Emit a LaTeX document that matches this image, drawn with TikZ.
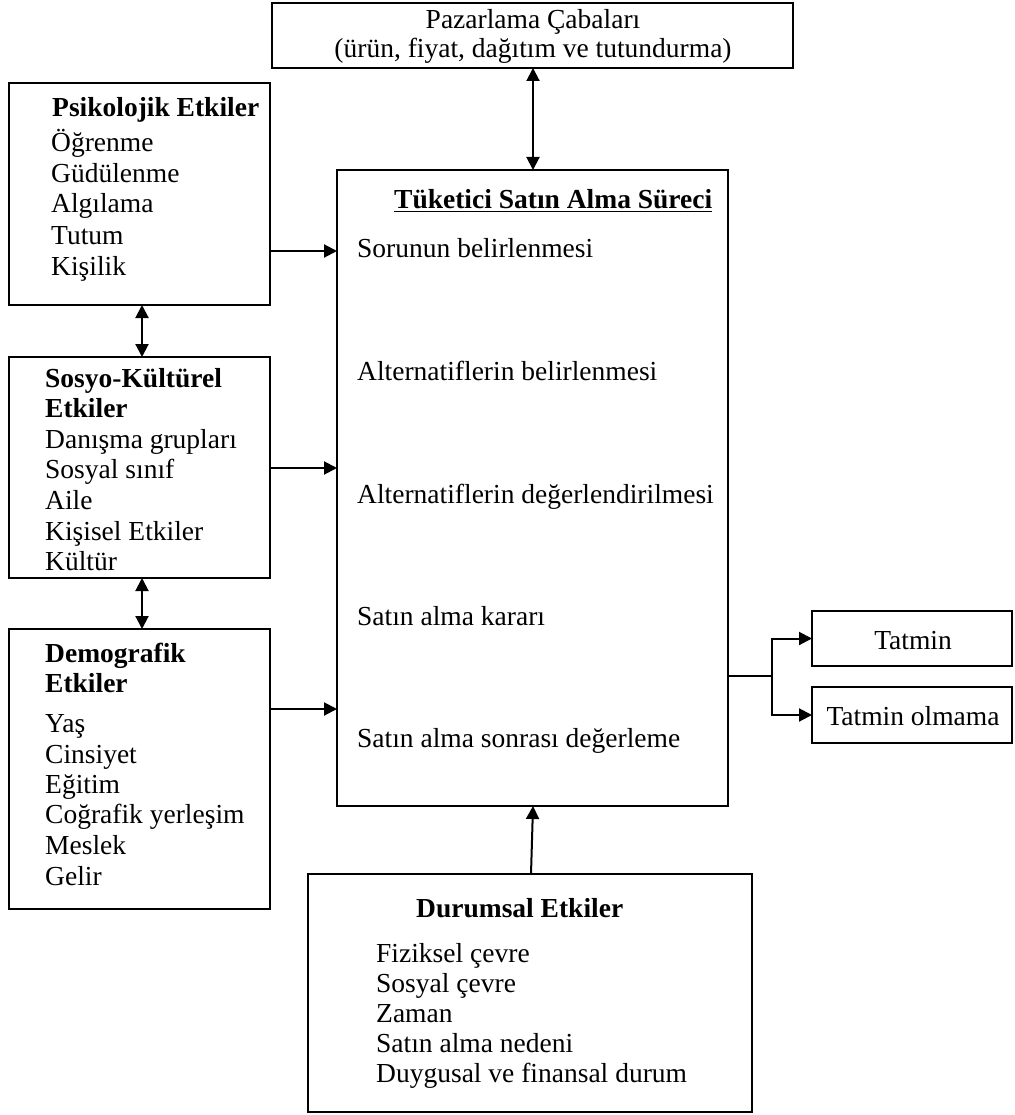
\documentclass[tikz,border=0pt]{standalone}
\usepackage{fontspec}
\setmainfont{Liberation Serif}
\usetikzlibrary{arrows.meta}
\begin{document}
\begin{tikzpicture}[x=1pt,y=-1pt,
  box/.style={draw,line width=2pt,inner sep=0pt,outer sep=0pt,anchor=north west},
  txt/.style={anchor=base west,inner sep=0pt,font=\fontsize{27.5}{30.5}\selectfont},
  ctxt/.style={anchor=base,inner sep=0pt,font=\fontsize{27.5}{30.5}\selectfont},
  conn/.style={line width=2pt},
  arr/.style={conn,-{Triangle[length=13pt,width=13pt]}},
  arrtwo/.style={conn,{Triangle[length=13pt,width=13pt]}-{Triangle[length=13pt,width=13pt]}}]
\useasboundingbox (0,0) rectangle (1014,1115);
% boxes
\node[box,minimum width=521pt,minimum height=65pt] (top) at (272,3) {};
\node[box,minimum width=391pt,minimum height=636pt] (main) at (337,170) {};
\node[box,minimum width=261pt,minimum height=222pt] (psy) at (9,83) {};
\node[box,minimum width=261pt,minimum height=221pt] (soc) at (9,357) {};
\node[box,minimum width=261pt,minimum height=280pt] (dem) at (9,629) {};
\node[box,minimum width=444pt,minimum height=238pt] (dur) at (308,874) {};
\node[box,minimum width=200pt,minimum height=55pt] (tat) at (812,611) {};
\node[box,minimum width=200pt,minimum height=56pt] (tol) at (812,687) {};
% top box text
\node[ctxt] (topa) at (533,29) {Pazarlama Çabaları};
\node[ctxt] (topb) at (533,58) {(ürün, fiyat, dağıtım ve tutundurma)};
% main box text
\node[txt] (mt) at (394,209) {\textbf{\underline{Tüketici Satın Alma Süreci}}};
\node[txt] (m1) at (357,258) {Sorunun belirlenmesi};
\node[txt] (m2) at (357,380) {Alternatiflerin belirlenmesi};
\node[txt] (m3) at (357,503) {Alternatiflerin değerlendirilmesi};
\node[txt] (m4) at (357,625) {Satın alma kararı};
\node[txt] (m5) at (357,747) {Satın alma sonrası değerleme};
% psychological
\node[txt] (pt) at (52,117) {\textbf{Psikolojik Etkiler}};
\node[txt] (p1) at (51,152) {Öğrenme};
\node[txt] (p2) at (51,183) {Güdülenme};
\node[txt] (p3) at (51,213) {Algılama};
\node[txt] (p4) at (51,244) {Tutum};
\node[txt] (p5) at (51,275) {Kişilik};
% socio-cultural
\node[txt] (st1) at (45,387) {\textbf{Sosyo-Kültürel}};
\node[txt] (st2) at (45,417) {\textbf{Etkiler}};
\node[txt] (s1) at (45,448) {Danışma grupları};
\node[txt] (s2) at (45,478) {Sosyal sınıf};
\node[txt] (s3) at (45,509) {Aile};
\node[txt] (s4) at (45,540) {Kişisel Etkiler};
\node[txt] (s5) at (45,570) {Kültür};
% demographic
\node[txt] (dt1) at (45,662) {\textbf{Demografik}};
\node[txt] (dt2) at (45,692) {\textbf{Etkiler}};
\node[txt] (d1) at (45,732) {Yaş};
\node[txt] (d2) at (45,763) {Cinsiyet};
\node[txt] (d3) at (45,793) {Eğitim};
\node[txt] (d4) at (45,823) {Coğrafik yerleşim};
\node[txt] (d5) at (45,854) {Meslek};
\node[txt] (d6) at (45,885) {Gelir};
% situational
\node[txt] (ut) at (416,917) {\textbf{Durumsal Etkiler}};
\node[txt] (u1) at (376,962) {Fiziksel çevre};
\node[txt] (u2) at (376,992) {Sosyal çevre};
\node[txt] (u3) at (376,1022) {Zaman};
\node[txt] (u4) at (376,1052) {Satın alma nedeni};
\node[txt] (u5) at (376,1082) {Duygusal ve finansal durum};
% outcome boxes text
\node[ctxt] (tatt) at (913,649) {Tatmin};
\node[ctxt] (tolt) at (913,725) {Tatmin olmama};
% connectors
\draw[arrtwo] (top.south -| 533,0) -- (main.north -| 533,0);
\draw[arrtwo] (psy.south -| 142,0) -- (soc.north -| 142,0);
\draw[arrtwo] (soc.south -| 142,0) -- (dem.north -| 142,0);
\draw[arr] (psy.east |- 0,251) -- (main.west |- 0,251);
\draw[arr] (soc.east |- 0,468) -- (main.west |- 0,468);
\draw[arr] (dem.east |- 0,709) -- (main.west |- 0,709);
\draw[arr] (dur.north -| 531,0) -- (main.south -| 533,0);
\coordinate (j) at (772,676);
\draw[conn] (main.east |- j) -- (j);
\draw[arr] (j) |- (tat.west);
\draw[arr] (j) |- (tol.west);
\end{tikzpicture}
\end{document}
